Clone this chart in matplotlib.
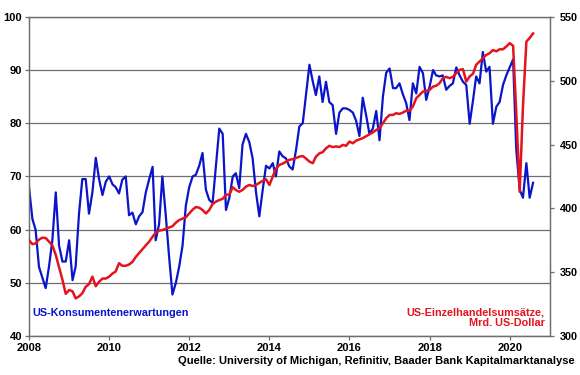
import numpy as np
import pandas as pd
import matplotlib
matplotlib.use("Agg")
import matplotlib.pyplot as plt
import matplotlib.dates as mdates

plt.rcParams['font.family'] = ['Liberation Sans', 'DejaVu Sans']
plt.rcParams['font.weight'] = 'bold'

# US-Konsumentenerwartungen (linke Achse), monatlich ab Jan 2008
erwartungen = [
    68, 62, 60, 53, 51, 49, 53, 58, 67, 57, 54, 54,
    58, 50.5, 53, 63, 69.5, 69.5, 63, 67, 73.5, 69.5, 66.5, 69,
    70, 68.5, 68, 66.8, 69.4, 70, 62.7, 63.2, 61, 62.5, 63.3, 67,
    69.5, 71.8, 58, 61, 70, 62.7, 55, 47.8, 50, 53, 57, 64.5,
    68, 70, 70.3, 72, 74.4, 67.5, 65.6, 65, 72, 79, 78, 63.7,
    66, 70, 70.6, 67.8, 76, 78, 76.5, 73.4, 67, 62.5, 67.5, 72,
    71.5, 72.5, 70, 74.7, 73.8, 73.4, 71.9, 71.3, 75, 79.4, 80, 85.5,
    91, 87.8, 85.3, 88.8, 84, 87.8, 84, 83.4, 78, 82, 82.8, 82.8,
    82.5, 82, 80.5, 77.6, 84.8, 81.5, 78, 79, 82.3, 76.8, 85, 89.5,
    90.3, 86.6, 86.6, 87.5, 85.5, 83.8, 80.6, 87.5, 85.6, 90.6, 89.4, 84.4,
    86.9, 90, 89, 88.8, 89, 86.3, 87, 87.5, 90.5, 89, 87.8, 87.2,
    79.9, 84.4, 88.8, 87.5, 93.4, 89.7, 90.6, 79.9, 83.1, 84, 87.2, 89,
    90.5, 92, 75, 67.5, 66, 72.5, 66, 68.8,
]

# US-Einzelhandelsumsaetze in Mrd. US-Dollar (rechte Achse)
umsaetze = [
    375, 372, 372.5, 375.5, 377, 376.8, 374, 371, 363.5, 354, 344, 333,
    336, 335, 329.5, 331, 333.5, 338.6, 340.6, 346.5, 339, 342.5, 345, 345,
    346.5, 349, 350.5, 357, 355, 355, 356, 358, 362, 365, 368, 371,
    374, 377.8, 381, 382.5, 383, 384, 385, 386, 388.8, 390.8, 392, 393,
    396, 399, 401, 400.5, 398.7, 396, 398.7, 403.4, 405.3, 406.5, 407.5, 410.5,
    411, 416.5, 414.4, 413, 414.4, 417, 418.3, 417.5, 418.3, 420, 421.5, 422.8,
    418.3, 425, 431, 434, 435, 436.5, 438, 438.5, 439.5, 440.5, 441, 439,
    436.6, 435.4, 440.5, 443, 444, 447, 449, 448, 448.5, 448, 449.7, 449,
    452.3, 451, 453, 454, 455, 456.5, 458, 459.5, 461.4, 463, 466.7, 470.6,
    473.2, 473.2, 474.5, 474, 475, 476.5, 476.5, 479.7, 486.3, 488.9, 491.5, 492,
    492.8, 495.4, 496, 498, 502, 503, 502, 503, 506, 508.5, 509, 499.3,
    503.3, 505.5, 512.4, 515, 517.6, 520.2, 521.5, 524, 523, 524.6, 524.6, 526.8,
    529.4, 527.3, 475, 413, 480, 530.6, 533.5, 537,
]

datum = pd.date_range("2008-01-01", periods=len(erwartungen), freq="MS")

blau = "#0A14C8"
rot = "#E3141E"
grau = "#6E6E6E"

fig = plt.figure(figsize=(5.8, 3.75), dpi=100)
ax = fig.add_axes([0.05, 0.104, 0.898, 0.851])
ax2 = ax.twinx()

ax.plot(datum, erwartungen, color=blau, lw=1.6, zorder=2)
ax2.plot(datum, umsaetze, color=rot, lw=1.8, zorder=3)

ax.set_ylim(40, 100)
ax.set_yticks([40, 50, 60, 70, 80, 90, 100])
ax2.set_ylim(300, 550)
ax2.set_yticks([300, 350, 400, 450, 500, 550])
ax.set_xlim(pd.Timestamp("2008-01-01"), pd.Timestamp("2021-01-01"))
ax.xaxis.set_major_locator(mdates.YearLocator(2))
ax.xaxis.set_major_formatter(mdates.DateFormatter("%Y"))

ax.yaxis.grid(True, color=grau, lw=0.9)
ax.set_axisbelow(True)

for a in (ax, ax2):
    for s in a.spines.values():
        s.set_color(grau)
        s.set_linewidth(0.9)
    a.tick_params(colors=grau, labelcolor="black", labelsize=8, length=3, width=0.9)
ax.spines['top'].set_color("#A0A0A0")
ax.tick_params(axis='y', pad=2)
ax.tick_params(axis='x', pad=2)
ax2.tick_params(axis='y', pad=4, labelsize=7.8)

for lab in ax.get_xticklabels() + ax.get_yticklabels() + ax2.get_yticklabels():
    lab.set_fontweight('bold')

ax.text(0.006, 0.072, "US-Konsumentenerwartungen", transform=ax.transAxes,
        color=blau, fontsize=7.8, fontweight='bold', va='center', ha='left')
ax.text(0.99, 0.057, "US-Einzelhandelsumsätze,\nMrd. US-Dollar", transform=ax.transAxes,
        color=rot, fontsize=7.8, fontweight='bold', va='center', ha='right',
        multialignment='right', linespacing=1.1)

fig.text(0.99, 0.037, "Quelle: University of Michigan, Refinitiv, Baader Bank Kapitalmarktanalyse",
         fontsize=8, fontweight='bold', ha='right', va='center')

fig.savefig("out.png", dpi=100)
